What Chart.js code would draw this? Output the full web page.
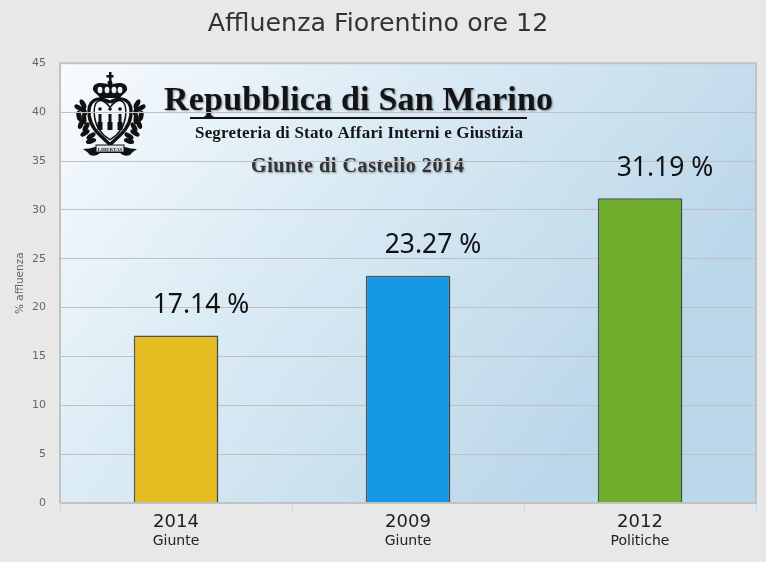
<!DOCTYPE html>
<html>
<head>
<meta charset="utf-8">
<title>Affluenza Fiorentino ore 12</title>
<script src="https://cdn.jsdelivr.net/npm/chart.js@4"></script>
<style>
  html, body { margin: 0; padding: 0; background: #e8e8e8; overflow: hidden; }
  canvas { display: block; }
</style>
</head>
<body>
<canvas id="chart" width="766" height="562"></canvas>
<script>
const years = ['2014', '2009', '2012'];
const kinds = ['Giunte', 'Giunte', 'Politiche'];
const turnout = [17.14, 23.27, 31.19];
const barColors = ['#e5bd22', '#1599e6', '#6eae2c'];

const headTitle = 'Repubblica di San Marino';
const headSub = 'Segreteria di Stato Affari Interni e Giustizia';
const headEvent = 'Giunte di Castello 2014';

// San Marino crest, rough version drawn by hand
function drawCrest(ctx) {
    ctx.save();
    ctx.translate(110, 0);
    ctx.fillStyle = '#111';
    ctx.strokeStyle = '#111';

    // cross + crown
    ctx.fillRect(-1, 72, 2.5, 12);
    ctx.fillRect(-3.5, 75, 7, 2.5);
    ctx.beginPath();
    ctx.arc(0, 83, 2.5, 0, Math.PI * 2);
    ctx.fill();
    ctx.beginPath();
    ctx.moveTo(-10, 98);
    ctx.bezierCurveTo(-13, 93, -18, 92, -17, 88);
    ctx.bezierCurveTo(-16, 82, -8, 82, 0, 85);
    ctx.bezierCurveTo(8, 82, 16, 82, 17, 88);
    ctx.bezierCurveTo(18, 92, 13, 93, 10, 98);
    ctx.closePath();
    ctx.fill();
    ctx.fillStyle = '#e8f2f9';
    [-10, -3, 4, 10].forEach(x => {
        ctx.beginPath();
        ctx.ellipse(x, 90, 2.4, 3.2, 0, 0, Math.PI * 2);
        ctx.fill();
    });
    ctx.fillStyle = '#111';

    // heart shaped shield, outer + inner ring
    const heart = scale => {
        ctx.beginPath();
        ctx.moveTo(0, 103 + (1 - scale) * 20);
        ctx.bezierCurveTo(-12 * scale, 95, -22 * scale, 100, -20 * scale, 116);
        ctx.bezierCurveTo(-18 * scale, 130, -8 * scale, 136, 0, 144 - (1 - scale) * 20);
        ctx.bezierCurveTo(8 * scale, 136, 18 * scale, 130, 20 * scale, 116);
        ctx.bezierCurveTo(22 * scale, 100, 12 * scale, 95, 0, 103 + (1 - scale) * 20);
    };
    ctx.lineWidth = 3.4;
    heart(1.04);
    ctx.stroke();
    ctx.lineWidth = 1.5;
    heart(0.78);
    ctx.stroke();

    // three towers with their plumes
    [-10, 0, 10].forEach(x => {
        ctx.fillRect(x - 1.5, 114, 3, 13);
        ctx.fillRect(x - 2.5, 122, 5, 8);
        ctx.beginPath();
        ctx.arc(x, 109, 1.8, 0, Math.PI * 2);
        ctx.fill();
    });

    // wreath leaves on each side
    const leaves = [[27, 104, 0.5], [31, 108, 1.0], [26, 111, 0.3], [31, 116, 0.2], [26, 119, 0.1],
        [29, 124, -0.4], [24, 127, -0.5], [25, 133, -1.0], [19, 136, -1.0], [19, 141, -1.3]];
    [-1, 1].forEach(side => {
        leaves.forEach(l => {
            ctx.beginPath();
            ctx.ellipse(side * l[0], l[1], 2.5, 5.2, side * l[2], 0, Math.PI * 2);
            ctx.fill();
        });
    });

    // ribbon
    ctx.beginPath();
    ctx.moveTo(-27, 149);
    ctx.quadraticCurveTo(-20, 149, -15, 147);
    ctx.lineTo(15, 147);
    ctx.quadraticCurveTo(20, 149, 27, 149);
    ctx.quadraticCurveTo(22, 152, 20, 155);
    ctx.quadraticCurveTo(14, 157, 10, 153);
    ctx.lineTo(-10, 153);
    ctx.quadraticCurveTo(-14, 157, -20, 155);
    ctx.quadraticCurveTo(-22, 152, -27, 149);
    ctx.fill();
    ctx.fillStyle = '#dfe6ea';
    ctx.fillRect(-14, 145, 28, 7);
    ctx.strokeStyle = '#111';
    ctx.lineWidth = 1;
    ctx.strokeRect(-14, 145, 28, 7);
    ctx.fillStyle = '#222';
    ctx.font = 'bold 5px "Liberation Serif"';
    ctx.textAlign = 'center';
    ctx.fillText('LIBERTAS', 0, 150.5);
    ctx.restore();
}

// background gradient + letterhead, sits below the grid lines
const plotBackground = {
    id: 'plotBackground',
    beforeDraw(chart) {
        const { ctx, chartArea: a } = chart;
        const grad = ctx.createLinearGradient(a.left, a.top, a.left + 560, a.bottom);
        grad.addColorStop(0, '#f8fbfe');
        grad.addColorStop(0.38, '#dcecf5');
        grad.addColorStop(0.78, '#c4dcec');
        grad.addColorStop(0.9, '#bbd7ea');
        ctx.save();
        ctx.fillStyle = grad;
        ctx.fillRect(a.left, a.top, a.right - a.left, a.bottom - a.top);

        drawCrest(ctx);

        ctx.textAlign = 'left';
        ctx.fillStyle = '#141414';
        ctx.shadowColor = 'rgba(0,0,0,0.4)';
        ctx.shadowBlur = 2;
        ctx.shadowOffsetX = 1;
        ctx.shadowOffsetY = 1;
        ctx.font = 'bold 34px "Liberation Serif"';
        ctx.letterSpacing = '0.2px';
        ctx.fillText(headTitle, 164, 110);
        ctx.shadowColor = 'transparent';
        ctx.fillRect(190, 117, 337, 2);
        ctx.font = 'bold 17px "Liberation Serif"';
        ctx.letterSpacing = '0.18px';
        ctx.fillText(headSub, 195, 138);
        ctx.fillStyle = '#333';
        ctx.shadowColor = 'rgba(0,0,0,0.4)';
        ctx.font = 'bold 20px "Liberation Serif"';
        ctx.letterSpacing = '0.6px';
        ctx.fillText(headEvent, 251, 172);
        ctx.restore();
    },
    afterDraw(chart) {
        const { ctx, chartArea: a } = chart;
        ctx.save();
        ctx.strokeStyle = '#c2c2c2';
        ctx.lineWidth = 2;
        ctx.beginPath();
        ctx.moveTo(a.left, a.bottom);
        ctx.lineTo(a.left, a.top);
        ctx.lineTo(a.right, a.top);
        ctx.lineTo(a.right, a.bottom);
        ctx.lineTo(a.left, a.bottom);
        ctx.stroke();
        ctx.restore();
    }
};

// value above each bar, the labels sit a bit to the right of the bar centre
const barValues = {
    id: 'barValues',
    beforeDatasetsDraw(chart) {
        const { ctx } = chart;
        ctx.save();
        ctx.shadowColor = 'rgba(0,0,0,0.25)';
        ctx.shadowBlur = 2;
        ctx.shadowOffsetX = 1;
        ctx.shadowOffsetY = 1;
    },
    afterDatasetsDraw(chart) {
        const { ctx } = chart;
        ctx.restore();
        ctx.save();
        ctx.fillStyle = '#111';
        ctx.font = '26.5px "Noto Sans"';
        ctx.textAlign = 'center';
        ctx.textBaseline = 'middle';
        chart.getDatasetMeta(0).data.forEach((bar, i) => {
            ctx.fillText(turnout[i].toFixed(2) + ' %', bar.x + 25, bar.y - 30);
        });
        ctx.restore();
    }
};

new Chart(document.getElementById('chart'), {
    type: 'bar',
    data: {
        labels: years,
        datasets: [{
            data: turnout,
            backgroundColor: barColors,
            borderColor: '#555',
            borderWidth: 1.5,
            barPercentage: 0.364,
            categoryPercentage: 1
        }]
    },
    plugins: [plotBackground, barValues],
    options: {
        responsive: false,
        animation: false,
        devicePixelRatio: 1,
        layout: { padding: { top: 0, right: 10, left: 0, bottom: 0 } },
        plugins: {
            legend: { display: false },
            tooltip: { enabled: false },
            title: {
                display: true,
                text: 'Affluenza Fiorentino ore 12',
                color: '#333',
                font: { family: '"DejaVu Sans"', size: 25.3, weight: 'normal', lineHeight: 1.2 },
                padding: { top: 9, bottom: 24 }
            }
        },
        scales: {
            x: {
                weight: 0,
                grid: { drawOnChartArea: false, color: '#c5d5e3', tickLength: 8 },
                border: { color: '#bbb' },
                ticks: { color: '#222', padding: 1, maxRotation: 0, font: { family: '"DejaVu Sans"', size: 18 } },
                afterFit(scale) { scale.height = 30; }
            },
            kind: {
                type: 'category',
                position: 'bottom',
                weight: 1,
                labels: kinds,
                grid: { display: false, drawTicks: false, tickLength: 0 },
                border: { display: false },
                ticks: { color: '#222', padding: 0, maxRotation: 0, font: { family: '"DejaVu Sans"', size: 14 } },
                afterFit(scale) { scale.height = 29; }
            },
            y: {
                min: 0,
                max: 45,
                ticks: { stepSize: 5, color: '#666', padding: 14, font: { family: '"DejaVu Sans"', size: 11 } },
                grid: { color: '#c0c0c0', drawTicks: false },
                border: { display: false },
                title: {
                    display: true,
                    text: '% affluenza',
                    color: '#666',
                    font: { family: '"DejaVu Sans"', size: 10.5 },
                    padding: { top: 14, bottom: 0 }
                },
                afterFit(scale) { scale.width = 60; }
            }
        }
    }
});
</script>
</body>
</html>
